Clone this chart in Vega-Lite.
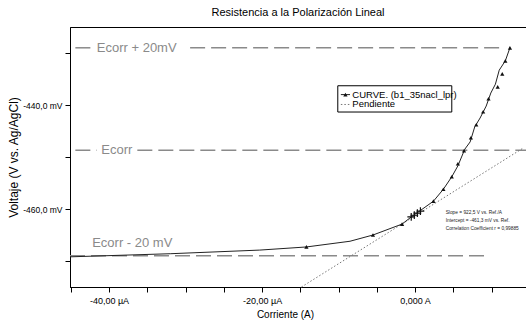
{
  "$schema": "https://vega.github.io/schema/vega-lite/v6.json",
  "width": 456,
  "height": 260,
  "autosize": "none",
  "padding": {"left": 70, "top": 27, "right": 0, "bottom": 33},
  "background": "white",
  "config": {
    "view": {"stroke": "black", "strokeWidth": 1},
    "font": "Liberation Sans"
  },
  "title": {"text": "Resistencia a la Polarización Lineal", "fontSize": 11, "fontWeight": "normal", "color": "black", "offset": 9, "font": "Liberation Sans"},
  "datasets": {
    "refs": [
      {"line": "Ecorr + 20mV", "x": -44.4, "x2": -41.7, "y": -429.0},
      {"line": "Ecorr + 20mV", "x": -29.4, "x2": 11.1, "y": -429.0},
      {"line": "Ecorr", "x": -44.4, "x2": -41.6, "y": -448.7},
      {"line": "Ecorr", "x": -36.3, "x2": 14.5, "y": -448.7},
      {"line": "Ecorr - 20 mV", "x": -45.1, "x2": 9.5, "y": -469.0}
    ],
    "reflabels": [
      {"label": "Ecorr + 20mV", "x": -41.6, "y": -429.0},
      {"label": "Ecorr", "x": -41.0, "y": -448.7},
      {"label": "Ecorr - 20 mV", "x": -42.2, "y": -466.5}
    ],
    "fit": [
      {"x": -14.85, "y": -475.0},
      {"x": 14.0, "y": -448.4}
    ],
    "curve": [
      {"x": -45.1, "y": -469.2},
      {"x": -32.0, "y": -468.6},
      {"x": -20.3, "y": -467.9},
      {"x": -14.2, "y": -467.3},
      {"x": -8.5, "y": -466.2},
      {"x": -5.5, "y": -465.0},
      {"x": -1.7, "y": -462.9},
      {"x": -0.3, "y": -461.3},
      {"x": 0.4, "y": -460.6},
      {"x": 2.4, "y": -458.5},
      {"x": 3.7, "y": -456.2},
      {"x": 4.8, "y": -453.8},
      {"x": 5.6, "y": -451.7},
      {"x": 6.5, "y": -448.5},
      {"x": 7.2, "y": -447.1},
      {"x": 7.8, "y": -444.2},
      {"x": 8.5, "y": -442.5},
      {"x": 9.3, "y": -440.2},
      {"x": 9.9, "y": -437.7},
      {"x": 10.5, "y": -436.0},
      {"x": 11.0, "y": -433.3},
      {"x": 11.8, "y": -431.5},
      {"x": 12.4, "y": -429.0}
    ],
    "markers": [
      {"x": 12.4, "y": -429.0},
      {"x": 11.8, "y": -431.5},
      {"x": 11.4, "y": -434.0},
      {"x": 10.8, "y": -436.5},
      {"x": 9.6, "y": -438.8},
      {"x": 8.9, "y": -441.3},
      {"x": 8.0, "y": -443.8},
      {"x": 7.3, "y": -446.3},
      {"x": 6.4, "y": -448.8},
      {"x": 5.6, "y": -451.3},
      {"x": 4.8, "y": -453.8},
      {"x": 3.7, "y": -456.2},
      {"x": 2.4, "y": -458.5},
      {"x": -1.7, "y": -462.9},
      {"x": -5.5, "y": -465.0},
      {"x": -14.2, "y": -467.3}
    ],
    "crosses": [
      {"x": -0.5, "y": -461.5},
      {"x": -0.1, "y": -461.2},
      {"x": 0.3, "y": -460.8},
      {"x": 0.7, "y": -460.4}
    ],
    "legendbox": [
      {"x": -10.1, "x2": 4.8, "y": -436.3, "y2": -441.35}
    ],
    "legendtext": [
      {"label": "CURVE. (b1_35nacl_lpr)", "x": -8.2, "y": -438.0},
      {"label": "Pendiente", "x": -8.2, "y": -439.9}
    ],
    "legendcurve": [
      {"x": -9.7, "x2": -8.5, "y": -438.0}
    ],
    "legenddot": [
      {"x": -9.7, "x2": -8.5, "y": -439.9}
    ],
    "legendtri": [
      {"x": -9.1, "y": -438.0}
    ],
    "stats": [
      {"label": "Slope = 922,5 V vs. Ref./A", "x": 4.0, "y": -460.8},
      {"label": "Intercept = -461,3 mV vs. Ref.", "x": 4.0, "y": -462.3},
      {"label": "Correlation Coefficient r = 0,99885", "x": 4.0, "y": -463.8}
    ]
  },
  "layer": [
    {
      "data": {"name": "refs"},
      "mark": {"type": "rule", "color": "#8a8a8a", "strokeWidth": 1.5, "strokeDash": [15, 6]},
      "encoding": {
        "x": {
          "field": "x", "type": "quantitative",
          "scale": {"domain": [-45.1, 14.5], "nice": false, "zero": false},
          "axis": {
            "title": "Corriente (A)",
            "values": [-45, -40, -35, -30, -25, -20, -15, -10, -5, 0, 5, 10],
            "labelExpr": "datum.value == -40 ? '-40,00 µA' : datum.value == -20 ? '-20,00 µA' : datum.value == 0 ? '0,000 A' : ''",
            "labelOverlap": false,
            "grid": false, "domainColor": "black", "tickColor": "black", "tickSize": 5,
            "labelColor": "black", "labelFontSize": 9, "labelPadding": 4, "labelFlush": false,
            "titleColor": "black", "titleFontSize": 10, "titleFontWeight": "normal", "titlePadding": 4,
            "titleX": 215
          }
        },
        "x2": {"field": "x2"},
        "y": {
          "field": "y", "type": "quantitative",
          "scale": {"domain": [-475, -425], "nice": false, "zero": false},
          "axis": {
            "title": "Voltaje (V vs. Ag/AgCl)",
            "values": [-470, -465, -460, -455, -450, -445, -440, -435, -430, -425],
            "labelExpr": "datum.value == -440 ? '-440,0 mV' : datum.value == -460 ? '-460,0 mV' : ''",
            "labelOverlap": false,
            "grid": false, "domainColor": "black", "tickColor": "black", "tickSize": 5,
            "labelColor": "black", "labelFontSize": 8.5, "labelPadding": 3,
            "titleColor": "black", "titleFontSize": 12, "titleFontWeight": "normal",
            "titleFont": "Liberation Sans", "titleX": -57, "titleBaseline": "middle"
          }
        }
      }
    },
    {
      "data": {"name": "reflabels"},
      "mark": {"type": "text", "color": "#8a8a8a", "fontSize": 13, "align": "left", "baseline": "middle"},
      "encoding": {
        "x": {"field": "x", "type": "quantitative"},
        "y": {"field": "y", "type": "quantitative"},
        "text": {"field": "label"}
      }
    },
    {
      "data": {"name": "fit"},
      "mark": {"type": "line", "color": "#777777", "strokeWidth": 1, "strokeDash": [1.5, 2]},
      "encoding": {
        "x": {"field": "x", "type": "quantitative"},
        "y": {"field": "y", "type": "quantitative"}
      }
    },
    {
      "data": {"name": "curve"},
      "mark": {"type": "line", "color": "#222222", "strokeWidth": 1},
      "encoding": {
        "x": {"field": "x", "type": "quantitative"},
        "y": {"field": "y", "type": "quantitative"}
      }
    },
    {
      "data": {"name": "markers"},
      "mark": {"type": "point", "shape": "triangle-up", "filled": true, "color": "#111111", "size": 18, "opacity": 1},
      "encoding": {
        "x": {"field": "x", "type": "quantitative"},
        "y": {"field": "y", "type": "quantitative"}
      }
    },
    {
      "data": {"name": "crosses"},
      "mark": {"type": "point", "shape": "M-1,0H1M0,-1V1", "filled": false, "color": "#111111", "size": 60, "strokeWidth": 1.2, "opacity": 1},
      "encoding": {
        "x": {"field": "x", "type": "quantitative"},
        "y": {"field": "y", "type": "quantitative"}
      }
    },
    {
      "data": {"name": "legendbox"},
      "mark": {"type": "rect", "fill": "white", "stroke": "black", "strokeWidth": 1},
      "encoding": {
        "x": {"field": "x", "type": "quantitative"},
        "x2": {"field": "x2"},
        "y": {"field": "y", "type": "quantitative"},
        "y2": {"field": "y2"}
      }
    },
    {
      "data": {"name": "legendcurve"},
      "mark": {"type": "rule", "color": "#222222", "strokeWidth": 1},
      "encoding": {
        "x": {"field": "x", "type": "quantitative"},
        "x2": {"field": "x2"},
        "y": {"field": "y", "type": "quantitative"}
      }
    },
    {
      "data": {"name": "legenddot"},
      "mark": {"type": "rule", "color": "#777777", "strokeWidth": 1, "strokeDash": [1.5, 2]},
      "encoding": {
        "x": {"field": "x", "type": "quantitative"},
        "x2": {"field": "x2"},
        "y": {"field": "y", "type": "quantitative"}
      }
    },
    {
      "data": {"name": "legendtri"},
      "mark": {"type": "point", "shape": "triangle-up", "filled": true, "color": "#111111", "size": 18, "opacity": 1},
      "encoding": {
        "x": {"field": "x", "type": "quantitative"},
        "y": {"field": "y", "type": "quantitative"}
      }
    },
    {
      "data": {"name": "legendtext"},
      "mark": {"type": "text", "color": "black", "fontSize": 9.5, "align": "left", "baseline": "middle"},
      "encoding": {
        "x": {"field": "x", "type": "quantitative"},
        "y": {"field": "y", "type": "quantitative"},
        "text": {"field": "label"}
      }
    },
    {
      "data": {"name": "stats"},
      "mark": {"type": "text", "color": "#222222", "fontSize": 4.8, "align": "left", "baseline": "middle"},
      "encoding": {
        "x": {"field": "x", "type": "quantitative"},
        "y": {"field": "y", "type": "quantitative"},
        "text": {"field": "label"}
      }
    }
  ]
}
